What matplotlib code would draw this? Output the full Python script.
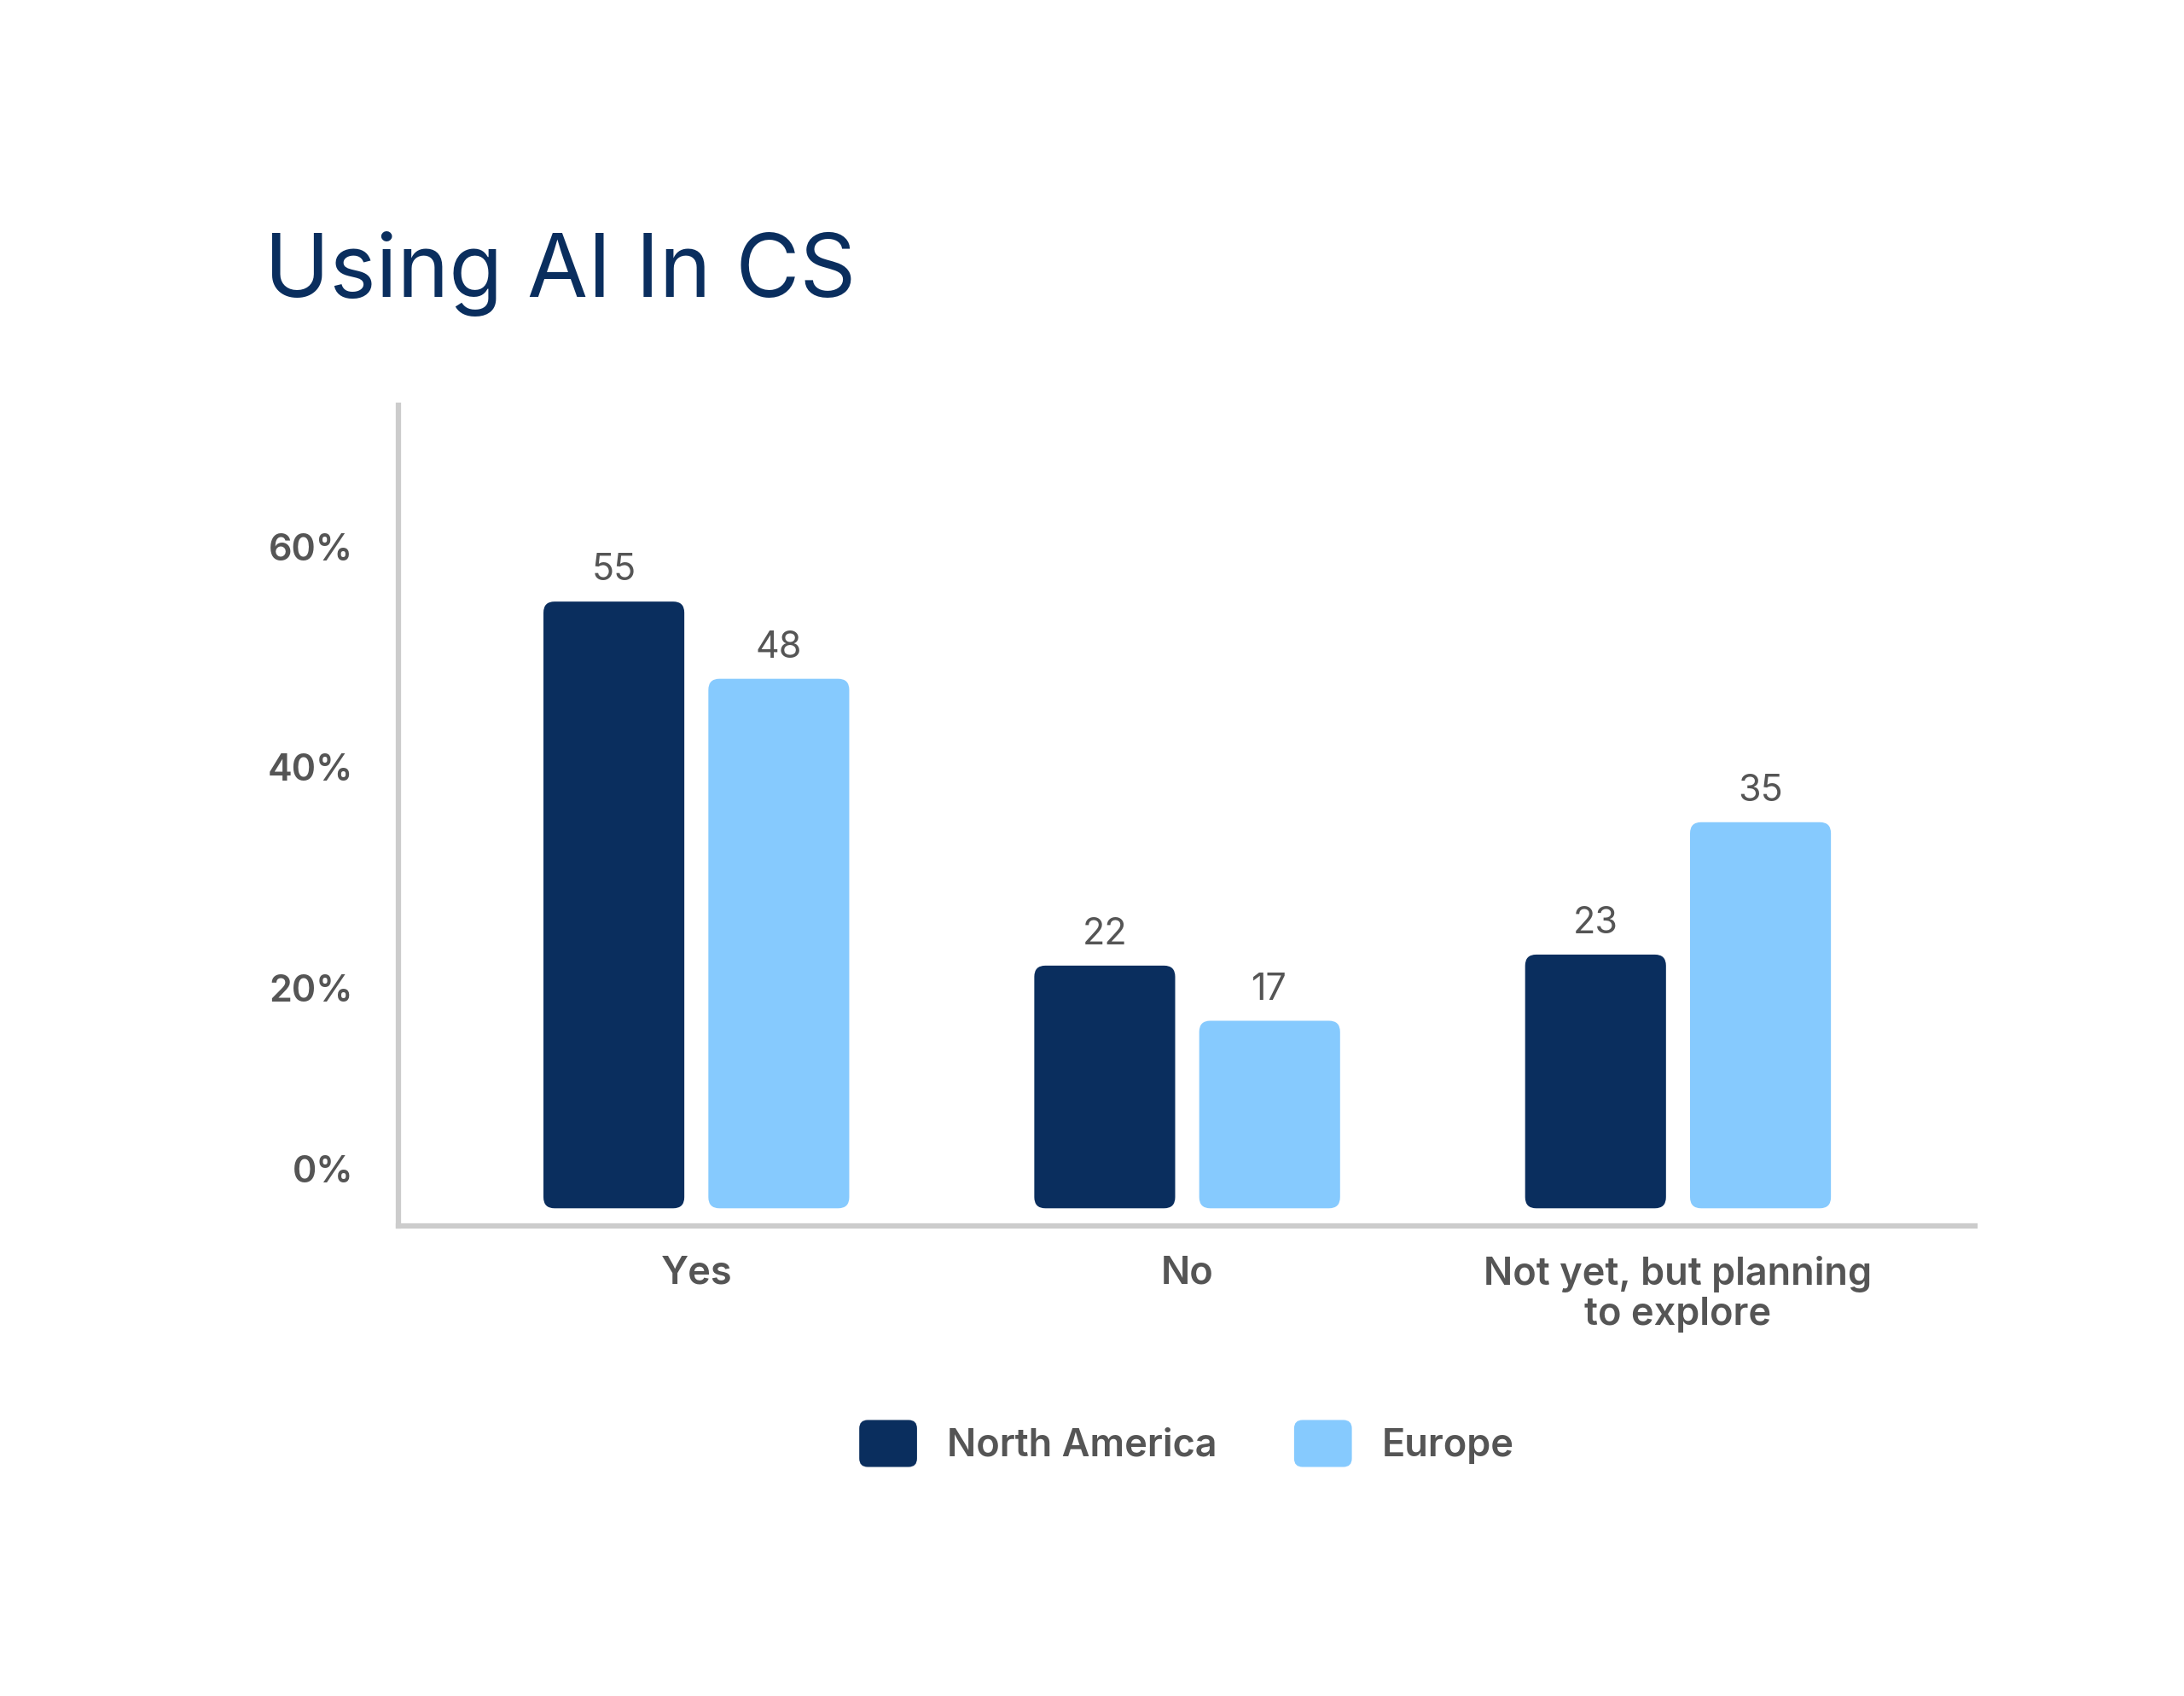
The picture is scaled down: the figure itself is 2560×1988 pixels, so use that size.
import matplotlib
matplotlib.use("Agg")
import matplotlib.pyplot as plt
from matplotlib.patches import FancyBboxPatch
from matplotlib.legend_handler import HandlerPatch
import matplotlib.transforms as mtransforms
import numpy as np

plt.rcParams['font.family'] = ['Inter', 'DejaVu Sans']

# ---- data ----
categories = ["Yes", "No", "Not yet, but planning\nto explore"]
series_names = ["North America", "Europe"]
north_america = [55, 22, 23]
europe = [48, 17, 35]
y_ticks = [0, 20, 40, 60]
y_tick_labels = ["0%", "20%", "40%", "60%"]
title = "Using AI In CS"

NAVY = "#0A2E5E"
LIGHT = "#86CAFE"
GREY_TXT = "#555555"
AXIS_GREY = "#CCCCCC"

W, H, DPI = 2560, 1988, 100
fig = plt.figure(figsize=(W / DPI, H / DPI), dpi=DPI)
fig.patch.set_facecolor("white")

ax_left, ax_right, ax_top, ax_bottom = 467, 2315, 475, 1437
ax = fig.add_axes([ax_left / W, 1 - ax_bottom / H,
                   (ax_right - ax_left) / W, (ax_bottom - ax_top) / H])

x = np.arange(len(categories))
width = 0.287
offset = 0.168
xlim = (-0.607, 2.605)
ylim = (-1.6, 72.8)
ax.set_xlim(*xlim)
ax.set_ylim(*ylim)

bars_na = ax.bar(x - offset, north_america, width, color=NAVY)
bars_eu = ax.bar(x + offset, europe, width, color=LIGHT)

# rounded corners
px_per_x = (ax_right - ax_left) / (xlim[1] - xlim[0])
px_per_y = (ax_bottom - ax_top) / (ylim[1] - ylim[0])
radius_px = 13
r = radius_px / px_per_x
asp = px_per_x / px_per_y
for bars, col in ((bars_na, NAVY), (bars_eu, LIGHT)):
    for b in bars:
        bx, by, bw, bh = b.get_x(), b.get_y(), b.get_width(), b.get_height()
        b.set_visible(False)
        p = FancyBboxPatch((bx, by), bw, bh,
                           boxstyle=f"round,pad=0,rounding_size={r}",
                           mutation_aspect=asp, facecolor=col, edgecolor="none")
        ax.add_patch(p)
        ax.annotate(f"{bh:g}", (bx + bw / 2, by + bh), xytext=(0, 18),
                    textcoords="offset points", ha="center", va="baseline",
                    fontsize=31, color=GREY_TXT)

# axes styling
for s in ("top", "right"):
    ax.spines[s].set_visible(False)
for s in ("left", "bottom"):
    ax.spines[s].set_color(AXIS_GREY)
    ax.spines[s].set_linewidth(4.5)
    ax.spines[s].set_capstyle("projecting")

ax.set_yticks(y_ticks)
ax.set_yticklabels(y_tick_labels, fontsize=31, fontweight="semibold", color=GREY_TXT)
ax.tick_params(axis="y", length=0, pad=38)
ax.set_xticks(x)
ax.set_xticklabels(categories, fontsize=32.5, fontweight="semibold", color=GREY_TXT,
                   linespacing=1.15)
ax.tick_params(axis="x", length=0, pad=25)

# nudge the 0% label upward as in the reference
lbl0 = ax.get_yticklabels()[0]
lbl0.set_transform(lbl0.get_transform() +
                   mtransforms.ScaledTranslation(0, 33 / 72, fig.dpi_scale_trans))

# title
fig.text(310 / W, 1 - 348 / H, title, fontsize=74, fontweight="normal",
         color=NAVY, ha="left", va="baseline")


class RoundHandler(HandlerPatch):
    def create_artists(self, legend, orig_handle, xdescent, ydescent,
                       width, height, fontsize, trans):
        rr = min(width, height) * 0.18
        p = FancyBboxPatch((-xdescent, -ydescent), width, height,
                           boxstyle=f"round,pad=0,rounding_size={rr}",
                           facecolor=orig_handle.get_facecolor(), edgecolor="none",
                           transform=trans)
        return [p]


handles = [bars_na.patches[0], bars_eu.patches[0]]
leg = fig.legend(handles, series_names, loc="center",
                 bbox_to_anchor=((ax_left + ax_right) / 2 / W, 1 - 1692 / H),
                 ncol=2, frameon=False, prop={"size": 32.5, "weight": "semibold"},
                 handlelength=1.5, handleheight=1.5, handletextpad=0.78,
                 columnspacing=2.0,
                 handler_map={type(bars_na.patches[0]): RoundHandler()})
for t in leg.get_texts():
    t.set_color(GREY_TXT)

fig.savefig("out.png", dpi=DPI, facecolor="white")
